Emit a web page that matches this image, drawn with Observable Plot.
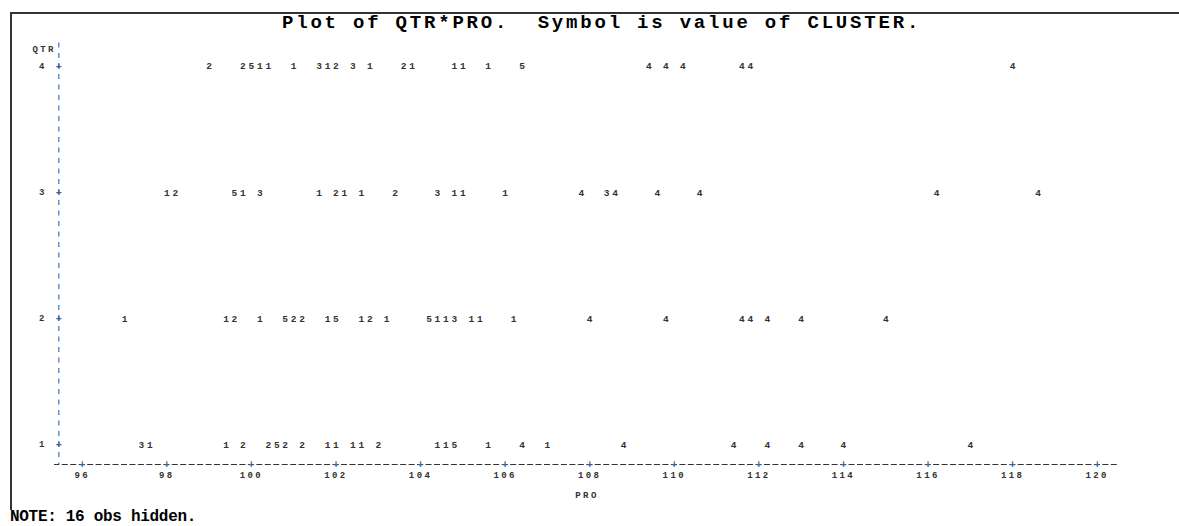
<!DOCTYPE html>
<html><head><meta charset="utf-8">
<script src="https://cdn.jsdelivr.net/npm/d3@7"></script>
<script src="https://cdn.jsdelivr.net/npm/@observablehq/plot@0.6"></script>
<style>
html,body{margin:0;padding:0;background:#fff;}
body{width:1179px;height:526px;position:relative;overflow:hidden;font-family:"Liberation Mono","DejaVu Sans Mono",monospace;}
#frame{position:absolute;left:10px;top:12px;width:1169px;height:498px;border-top:2px solid #333;border-left:2px solid #333;box-sizing:border-box;}
#title{position:absolute;left:282px;top:14px;text-align:left;font-weight:bold;font-size:19px;letter-spacing:2.8px;line-height:19px;color:#000;white-space:pre;}
#chart{position:absolute;left:0;top:30px;}
#note{position:absolute;left:10px;top:508px;font-weight:bold;font-size:16px;letter-spacing:-0.3px;line-height:18px;color:#000;white-space:pre;}
</style></head>
<body>
<div id="frame"></div>
<div id="title">Plot of QTR*PRO.  Symbol is value of CLUSTER.</div>
<div id="chart"></div>
<div id="note">NOTE: 16 obs hidden.</div>
<script>
// QTR levels and PRO tick labels
const qtrLevels = [1, 2, 3, 4];
const proTicks = [96, 98, 100, 102, 104, 106, 108, 110, 112, 114, 116, 118, 120];

// QTR = 4
const pro4 = [99.0, 99.8, 100.0, 100.2, 100.4, 101.0, 101.6, 101.8, 102.0, 102.4, 102.8, 103.6, 103.8, 104.8, 105.0, 105.6, 106.4, 109.4, 109.8, 110.2, 111.6, 111.8, 118.0];
const cluster4 = ["2","2","5","1","1","1","3","1","2","3","1","2","1","1","1","1","5","4","4","4","4","4","4"];
// QTR = 3
const pro3 = [98.0, 98.2, 99.6, 99.8, 100.2, 101.6, 102.0, 102.2, 102.6, 103.4, 104.4, 104.8, 105.0, 106.0, 107.8, 108.4, 108.6, 109.6, 110.6, 116.2, 118.6];
const cluster3 = ["1","2","5","1","3","1","2","1","1","2","3","1","1","1","4","3","4","4","4","4","4"];
// QTR = 2
const pro2 = [97.0, 99.4, 99.6, 100.2, 100.8, 101.0, 101.2, 101.8, 102.0, 102.6, 102.8, 103.2, 104.2, 104.4, 104.6, 104.8, 105.2, 105.4, 106.2, 108.0, 109.8, 111.6, 111.8, 112.2, 113.0, 115.0];
const cluster2 = ["1","1","2","1","5","2","2","1","5","1","2","1","5","1","1","3","1","1","1","4","4","4","4","4","4","4"];
// QTR = 1
const pro1 = [97.4, 97.6, 99.4, 99.8, 100.4, 100.6, 100.8, 101.2, 101.8, 102.0, 102.4, 102.6, 103.0, 104.4, 104.6, 104.8, 105.6, 106.4, 107.0, 108.8, 111.4, 112.2, 113.0, 114.0, 117.0];
const cluster1 = ["3","1","1","2","2","5","2","2","1","1","1","1","2","1","1","5","1","4","1","4","4","4","4","4","4"];

const rows = [[4, pro4, cluster4], [3, pro3, cluster3], [2, pro2, cluster2], [1, pro1, cluster1]];
const points = rows.flatMap(([q, xs, cs]) => xs.map((p, i) => ({qtr: q, pro: p, cluster: cs[i]})));

const xDomain = [95.345, 120.48];
const yDomain = [0.841, 4.198];
const yAxisAt = 95.447;
const mono = "'Liberation Mono','DejaVu Sans Mono',monospace";

const chart = Plot.plot({
  width: 1179, height: 478,
  marginLeft: 54, marginRight: 62, marginTop: 11, marginBottom: 44,
  x: {domain: xDomain, axis: null},
  y: {domain: yDomain, axis: null},
  style: {fontFamily: mono, fontWeight: "bold", background: "transparent", color: "#333"},
  marks: [
    Plot.ruleX([yAxisAt], {y1: yDomain[1], y2: yDomain[0], stroke: "#4a7fc0", strokeWidth: 1.3, strokeDasharray: "5 5.5", strokeDashoffset: 9}),
    Plot.ruleY([yDomain[0]], {stroke: "#333", strokeWidth: 1.2, strokeDasharray: "6 2.46", strokeDashoffset: 0.7}),
    Plot.text(proTicks, {x: d => d, y: yDomain[0], text: () => "+", fill: "#35609a", fontSize: 10, fontWeight: "bold"}),
    Plot.text(proTicks, {x: d => d, y: yDomain[0], text: d => String(d), dy: 11, fill: "#333", fontSize: 9, fontWeight: "bold"}),
    Plot.text(qtrLevels, {x: yAxisAt, y: d => d, text: () => "+", fill: "#35609a", fontSize: 10, fontWeight: "bold"}),
    Plot.text(qtrLevels, {x: yAxisAt, y: d => d, text: d => String(d), dx: -17, fill: "#333", fontSize: 9, fontWeight: "bold"}),
    Plot.text(["QTR"], {frameAnchor: "top-left", dx: -22, dy: 4, fill: "#333", fontSize: 9, fontWeight: "bold"}),
    Plot.text(["PRO"], {frameAnchor: "bottom", dx: 1, dy: 33, fill: "#333", fontSize: 9, fontWeight: "bold"}),
    Plot.text(points, {x: "pro", y: "qtr", text: "cluster", fill: "#333", fontSize: 9.5, fontWeight: "bold"})
  ]
});
d3.select(chart).selectAll("text").filter(function() { return this.textContent.length > 1; })
  .style("letter-spacing", "2.4px");
document.getElementById("chart").appendChild(chart);
</script>
</body></html>
